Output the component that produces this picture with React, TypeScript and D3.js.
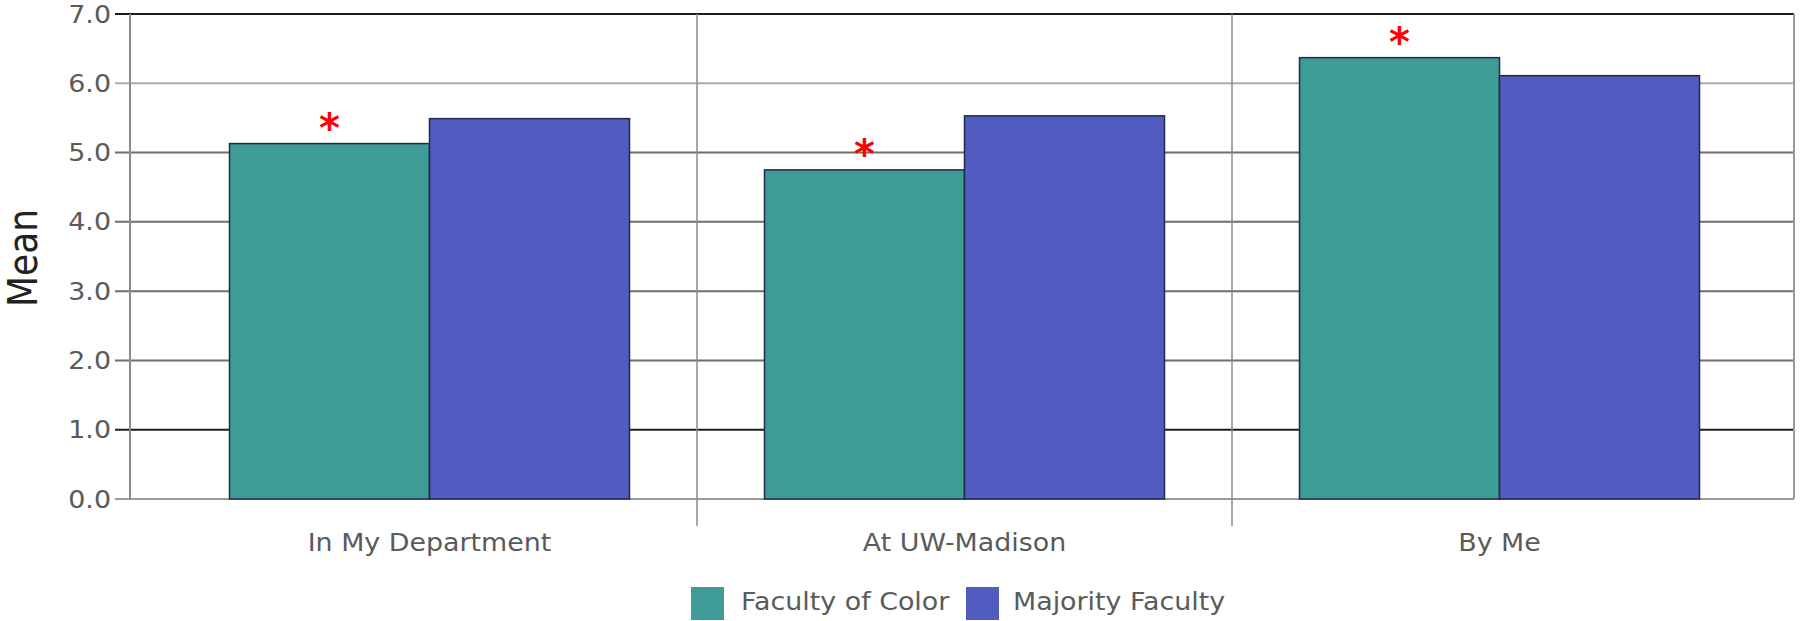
import React from "react";
import * as d3 from "d3";

const categories = ["In My Department", "At UW-Madison", "By Me"];
const series = ["Faculty of Color", "Majority Faculty"];
const facultyOfColor = [5.13, 4.75, 6.37];
const majorityFaculty = [5.49, 5.53, 6.11];
const significant = [true, true, true];
const yTicks = [0, 1, 2, 3, 4, 5, 6, 7];
const colors = ["#3f9b95", "#525cc0"];

const W = 1800;
const H = 621;
const FONT = "'DejaVu Sans', Verdana, sans-serif";
const SX = 1.12;

export default function App() {
  const plotTop = 14;
  const plotBottom = 499;
  const axisX = 130;
  const rightX = 1794;
  const y = d3.scaleLinear().domain([0, 7]).range([plotBottom, plotTop]);
  const x0 = d3.scaleBand<string>().domain(categories).range([162, 1767]).paddingInner(0).paddingOuter(0);
  const x1 = d3.scaleBand<string>().domain(series).range([0, x0.bandwidth()]).paddingInner(0).paddingOuter(0.3375);
  const values = [facultyOfColor, majorityFaculty];

  const gridColor = (t: number) =>
    t === 7 || t === 1 ? "#1c1c1c" : t === 6 ? "#ababab" : t === 0 ? "#9a9a9a" : "#6e6e6e";

  const legendY = 601;
  const legendItems = [
    { sq: 691, tx: 741 },
    { sq: 966, tx: 1013 },
  ];

  return (
    <svg width={W} height={H} style={{ position: "absolute", left: 0, top: 0, background: "#fff" }} fontFamily={FONT}>
      {yTicks.map((t) => (
        <line key={"g" + t} x1={115} x2={rightX} y1={y(t)} y2={y(t)} stroke={gridColor(t)} strokeWidth={2} />
      ))}
      {yTicks.map((t) => (
        <text
          key={"t" + t}
          transform={`translate(111,${y(t) + 8.5}) scale(${SX},1)`}
          textAnchor="end"
          fontSize={24}
          fill="#5a5a5a"
        >
          {d3.format(".1f")(t)}
        </text>
      ))}
      <line x1={axisX} x2={axisX} y1={plotTop} y2={plotBottom} stroke="#8a8a8a" strokeWidth={2} />
      <line x1={rightX} x2={rightX} y1={plotTop} y2={plotBottom} stroke="#9a9a9a" strokeWidth={2} />
      {categories.slice(1).map((c) => (
        <line key={"d" + c} x1={x0(c)!} x2={x0(c)!} y1={plotTop} y2={526} stroke="#8a8a8a" strokeWidth={1.5} />
      ))}
      {categories.map((c, i) => (
        <g key={c} transform={`translate(${x0(c)},0)`}>
          {series.map((s, j) => (
            <rect
              key={s}
              x={x1(s)!}
              y={y(values[j][i])}
              width={x1.bandwidth()}
              height={plotBottom - y(values[j][i])}
              fill={colors[j]}
              stroke="#1f2b48"
              strokeWidth={1.5}
            />
          ))}
          {significant[i] && (
            <text
              x={x1(series[0])! + x1.bandwidth() / 2}
              y={y(facultyOfColor[i]) - 2}
              textAnchor="middle"
              fontSize={40}
              fontWeight="bold"
              fill="#ff0000"
            >
              *
            </text>
          )}
        </g>
      ))}
      {categories.map((c) => (
        <text
          key={"x" + c}
          transform={`translate(${x0(c)! + x0.bandwidth() / 2},551) scale(${SX},1)`}
          textAnchor="middle"
          fontSize={24}
          fill="#5a5a5a"
        >
          {c}
        </text>
      ))}
      <text
        transform={`translate(23,258) scale(1.15,1) rotate(-90)`}
        textAnchor="middle"
        dominantBaseline="central"
        fontSize={36}
        fill="#222"
      >
        Mean
      </text>
      {series.map((s, j) => (
        <g key={"l" + s}>
          <rect x={legendItems[j].sq} y={legendY - 14} width={33} height={33} fill={colors[j]} />
          <text
            transform={`translate(${legendItems[j].tx},${legendY + 9}) scale(${SX},1)`}
            fontSize={24}
            fill="#5a5a5a"
          >
            {s}
          </text>
        </g>
      ))}
    </svg>
  );
}
